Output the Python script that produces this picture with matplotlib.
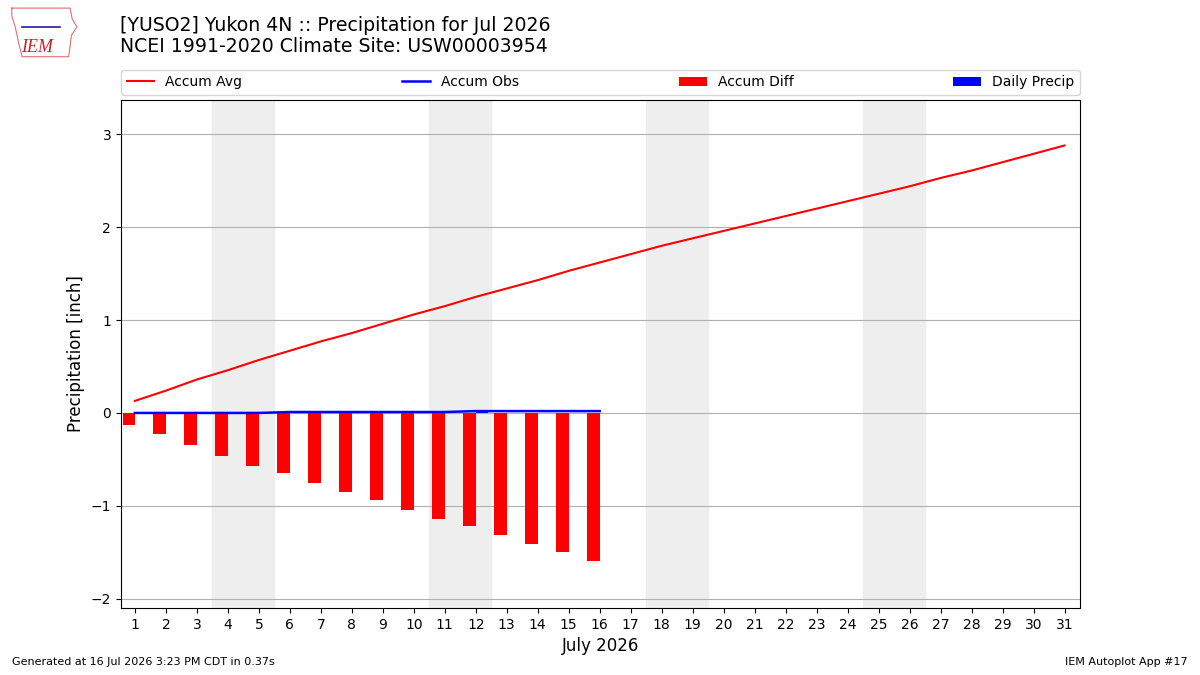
import numpy as np
import matplotlib.pyplot as plt

# datos (julio 2026)
days = list(range(1, 32))
accum_avg = [0.13, 0.24, 0.36, 0.46, 0.57, 0.67, 0.77, 0.86, 0.96, 1.06,
             1.15, 1.25, 1.34, 1.43, 1.53, 1.62, 1.71, 1.80, 1.88, 1.96,
             2.04, 2.12, 2.20, 2.28, 2.36, 2.44, 2.53, 2.61, 2.70, 2.79, 2.88]
obs_days = list(range(1, 17))
accum_obs = [0.0, 0.0, 0.0, 0.0, 0.0, 0.01, 0.01, 0.01, 0.01, 0.01,
             0.01, 0.02, 0.02, 0.02, 0.02, 0.02]
accum_diff = [-0.13, -0.23, -0.35, -0.46, -0.57, -0.65, -0.75, -0.85, -0.94, -1.04,
              -1.14, -1.22, -1.31, -1.41, -1.50, -1.59]
daily_precip = [0.0, 0.0, 0.0, 0.0, 0.0, 0.01, 0.0, 0.0, 0.0, 0.0,
                0.0, 0.01, 0.0, 0.0, 0.0, 0.0]
weekends = [(3.5, 5.5), (10.5, 12.5), (17.5, 19.5), (24.5, 26.5)]

fig = plt.figure(figsize=(12, 6.75), dpi=100)
ax = fig.add_axes([0.1008, 0.0993, 0.7992, 0.7526])

for x0, x1 in weekends:
    ax.axvspan(x0, x1, color='#eeeeee', zorder=0)

ax.plot(days, accum_avg, color='r', lw=1.5, label='Accum Avg', zorder=3)
ax.plot(obs_days, accum_obs, color='b', lw=1.8, label='Accum Obs', zorder=3)
ax.bar(obs_days, accum_diff, width=-0.4, align='edge', color='r',
       label='Accum Diff', zorder=2)
ax.bar(obs_days, daily_precip, width=0.4, align='edge', color='b',
       label='Daily Precip', zorder=2)

ax.set_xlim(0.55, 31.5)
ax.set_ylim(-2.1, 3.37)
ax.set_xticks(days)
ax.set_yticks([-2, -1, 0, 1, 2, 3])
ax.set_yticklabels(['\u22122', '\u22121', '0', '1', '2', '3'])
ax.tick_params(labelsize=10)
ax.grid(axis='y', color='#b0b0b0', lw=0.8)
ax.set_axisbelow(True)
ax.set_xlabel('July 2026', fontsize=12)
ax.set_ylabel('Precipitation [inch]', fontsize=12)

ax.legend(loc='lower left', bbox_to_anchor=(0, 1.01, 1, 0.05), mode='expand',
          ncol=4, fontsize=10, borderaxespad=0)

fig.text(0.1, 0.977, '[YUSO2] Yukon 4N :: Precipitation for Jul 2026\n'
         'NCEI 1991-2020 Climate Site: USW00003954',
         fontsize=13.6, va='top', ha='left', linespacing=1.15)

# logo aproximado (contorno de Iowa + texto)
logo = fig.add_axes([0.007, 0.912, 0.06, 0.08])
logo.plot([0.05, 0.9, 0.93, 1.0, 0.92, 0.88, 0.2, 0.15, 0.1, 0.05, 0.05],
          [0.95, 0.95, 0.75, 0.6, 0.45, 0.05, 0.05, 0.3, 0.6, 0.8, 0.95],
          color='#e07070', lw=0.8)
logo.set_xlim(0, 1.05)
logo.set_ylim(0, 1)
logo.axis('off')
logo.text(0.42, 0.22, 'IEM', color='#d02020', fontsize=13, style='italic',
          family='Liberation Serif', ha='center', va='center')
logo.plot([0.2, 0.75], [0.6, 0.6], color='#2020a0', lw=1.2)

fig.text(0.01, 0.015, 'Generated at 16 Jul 2026 3:23 PM CDT in 0.37s', fontsize=8)
fig.text(0.99, 0.015, 'IEM Autoplot App #17', fontsize=8, ha='right')

fig.savefig('out.png', dpi=100)
